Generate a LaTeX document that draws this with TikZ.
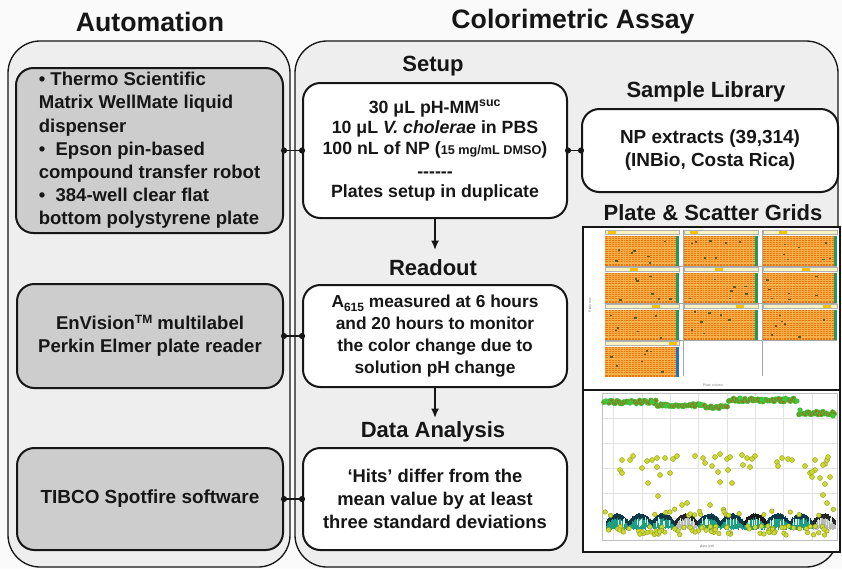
\documentclass[tikz,border=0pt]{standalone}
\usepackage{fontspec}
\setmainfont{Liberation Sans}
\usetikzlibrary{arrows.meta}
\definecolor{bg}{HTML}{FAFAFA}
\definecolor{panelfill}{HTML}{EEEEEE}
\definecolor{boxgray}{HTML}{CDCDCD}
\definecolor{ink}{HTML}{161616}
\definecolor{plateorange}{HTML}{EE7410}
\definecolor{plategridc}{HTML}{F5B04A}
\definecolor{hdrfill}{HTML}{FAF2C0}
\definecolor{hdrmark}{HTML}{F5C400}
\definecolor{stripgreen}{HTML}{1E9A5E}
\definecolor{stripblue}{HTML}{2070C8}
\definecolor{hitcol}{HTML}{5C5A22}
\definecolor{topfill}{HTML}{8C7A1E}
\definecolor{topedge}{HTML}{3CC83C}
\definecolor{yelfill}{HTML}{CCD834}
\definecolor{yeledge}{HTML}{8E9C12}
\definecolor{tealA}{HTML}{1F9C84}
\definecolor{tealB}{HTML}{0C3A48}
\definecolor{tealC}{HTML}{7AD0A0}
\definecolor{gridc}{HTML}{E2E2E2}
\newcommand\drawplate[4]{%
 \begin{scope}[shift={(#1,#2)}]
  \fill[hdrfill] (0,0) rectangle (74,4.5);
  \draw[gray!60, line width=0.2pt] (0,0) rectangle (74,4.5);
  \fill[hdrmark] (#4,0.6) rectangle ++(8,3.3);
  \fill[plateorange] (0,5.5) rectangle (74,35.5);
  \foreach \k in {1,...,23} \draw[plategridc, line width=0.35pt] ({\k*71/24},5.5) -- ({\k*71/24},35.5);
  \foreach \k in {1,...,15} \draw[plategridc, line width=0.35pt] (0,{5.5+\k*30/16}) -- (71,{5.5+\k*30/16});
  \fill[#3] (71,5.5) rectangle (74,35.5);
  \foreach \k in {1,...,7} {
    \pgfmathsetmacro\hx{3+rnd*64}
    \pgfmathsetmacro\hy{7+rnd*26}
    \fill[hitcol] (\hx,\hy) rectangle ++(2.4,1.7);
  }
 \end{scope}}
\begin{document}
\begin{tikzpicture}[x=0.75pt,y=-0.75pt]
\tikzset{
 panel/.style={draw=ink, line width=1pt, fill=panelfill, rounded corners=24pt},
 graybox/.style={draw=ink, line width=1.5pt, fill=boxgray, rounded corners=13pt, inner sep=0pt, text=ink},
 whitebox/.style={draw=ink, line width=1.5pt, fill=white, rounded corners=13pt, inner sep=0pt, text=ink},
 sectitle/.style={font=\bfseries\fontsize{16.5}{18}\selectfont, text=ink},
 bigtitle/.style={font=\bfseries\fontsize{20}{22}\selectfont, text=ink},
 conn/.style={draw=ink, line width=1.3pt},
 flow/.style={draw=ink, line width=1.3pt, -{Latex[length=7pt,width=6pt]}},
 tiny/.style={font=\fontsize{2.6}{3}\selectfont, text=gray},
}
\pgfmathsetseed{7}
\fill[bg] (0,0) rectangle (842,569);
\useasboundingbox (0,0) rectangle (842,569);

% titles
\node[bigtitle] (tauto) at (150,22) {Automation};
\node[bigtitle] (tcolor) at (573,22) {Colorimetric Assay};

% panels
\draw[panel] (8,41) rectangle (290,567);
\draw[panel] (295,41) rectangle (838,567);

% automation boxes
\node[graybox, minimum width=200.25pt, minimum height=123.75pt, align=left,
      font=\bfseries\fontsize{13.9}{17.4}\selectfont] (box1) at (149.5,150.5)
 {• Thermo Scientific\\Matrix WellMate liquid\\dispenser\\•\ \ Epson pin-based\\compound transfer robot\\•\ \ 384-well clear flat\\bottom polystyrene plate};
\node[graybox, minimum width=199.5pt, minimum height=78pt, align=center,
      font=\bfseries\fontsize{13.9}{17.3}\selectfont] (box2) at (150,336)
 {EnVision\raisebox{0.6ex}{\fontsize{9}{9}\selectfont TM} multilabel\\Perkin Elmer plate reader};
\node[graybox, minimum width=199.5pt, minimum height=76.5pt, align=center,
      font=\bfseries\fontsize{14.2}{17}\selectfont] (box3) at (150,499)
 {TIBCO Spotfire software};

% assay section titles
\node[sectitle] (tsetup) at (433,66) {Setup};
\node[sectitle] (tread) at (433,268) {Readout};
\node[sectitle] (tdata) at (433,432) {Data Analysis};
\node[sectitle] (tsample) at (706,92) {Sample Library};
\node[sectitle] (tgrid) at (713,213) {Plate \& Scatter Grids};

% assay boxes
\node[whitebox, minimum width=198pt, minimum height=101.25pt, align=center,
      font=\bfseries\fontsize{13.3}{15.4}\selectfont] (setup) at (435,150.5)
 {30 μL pH-MM\textsuperscript{suc}\\10 μL \textit{V. cholerae} in PBS\\100 nL of NP ({\fontsize{9.5}{10}\selectfont 15 mg/mL DMSO})\\[2pt]-{}-{}-{}-{}-{}-\\Plates setup in duplicate};
\node[whitebox, minimum width=198pt, minimum height=76.5pt, align=center,
      font=\bfseries\fontsize{13}{16.3}\selectfont] (readout) at (435,336)
 {A\raisebox{-0.4ex}{\fontsize{9}{9}\selectfont 615} measured at 6 hours\\and 20 hours to monitor\\the color change due to\\solution pH change};
\node[whitebox, minimum width=198pt, minimum height=76.5pt, align=center,
      font=\bfseries\fontsize{13.8}{17}\selectfont] (data) at (435,499)
 {‘Hits’ differ from the\\mean value by at least\\three standard deviations};
\node[whitebox, minimum width=192pt, minimum height=62.25pt, align=center,
      font=\bfseries\fontsize{14.2}{17.3}\selectfont] (sample) at (710,150.5)
 {NP extracts (39,314)\\(INBio, Costa Rica)};

% connectors
\draw[conn] (box1.east) -- (setup.west);
\draw[conn] (box2.east) -- (readout.west);
\draw[conn] (box3.east) -- (data.west);
\draw[conn] (setup.east) -- (sample.west);
\foreach \p in {box1.east,setup.west,box2.east,readout.west,box3.east,data.west,setup.east,sample.west}
  \fill[ink] (\p) circle[radius=2.3pt];
\coordinate (a1) at (435,250);
\coordinate (a2) at (435,418);
\draw[flow] (setup.south) -- (a1);
\draw[flow] (readout.south) -- (a2);

% ---------- plate grid image ----------
\fill[white] (583,227) rectangle (840,390);
\drawplate{605}{230}{stripgreen}{3}
\drawplate{684}{230}{stripgreen}{6}
\drawplate{763}{230}{stripgreen}{16}
\drawplate{605}{267}{stripgreen}{25}
\drawplate{684}{267}{stripgreen}{31}
\drawplate{763}{267}{stripgreen}{39}
\drawplate{605}{304}{stripgreen}{47}
\drawplate{684}{304}{stripgreen}{52}
\drawplate{763}{304}{stripgreen}{60}
\drawplate{605}{341}{stripblue}{64}
\draw[gray!70, line width=0.3pt] (683.5,230) -- (683.5,376) (762.5,230) -- (762.5,376);
\draw[gray!70, line width=0.3pt] (605,266) -- (837,266) (605,303) -- (837,303) (605,340) -- (837,340);
\node[tiny, rotate=90] (prow) at (590,305) {Plate row};
\node[tiny] (pcol) at (713,385) {Plate column};
\draw[ink, line width=0.9pt] (583,227) rectangle (840,390);

% ---------- scatter image ----------
\fill[white] (583,390) rectangle (840,552);
\foreach \gx in {613,642,670,698,727,755,783,812} \draw[gridc, line width=0.4pt] (\gx,393) -- (\gx,540);
\foreach \gy in {418,443,468,493,518} \draw[gridc, line width=0.4pt] (602,\gy) -- (837,\gy);
\draw[gray!50, line width=0.3pt] (602,393) rectangle (837,540);
% bottom clusters (dome-shaped stripes)
\foreach \c/\dk in {617/0,640/0,663/0,686/1,709/0,732/0,755/2,778/0,801/0,824/1} {
  \foreach \k in {-22,...,22} {
    \pgfmathsetmacro\xx{\c+\k*0.5}
    \pgfmathsetmacro\yt{513+(\k/22)^2*7+rnd*1.5}
    \pgfmathsetmacro\ym{\yt+4+rnd*2}
    \pgfmathsetmacro\yb{527+rnd*3}
    \ifnum\dk=1
      \draw[black!85, line width=0.7pt] (\xx,\yt) -- (\xx,\ym);
      \draw[gray!55, line width=0.7pt] (\xx,\ym) -- (\xx,\yb);
    \else\ifnum\dk=2
      \draw[black!90, line width=0.7pt] (\xx,\yt) -- (\xx,\ym);
      \draw[tealA, line width=0.7pt] (\xx,\ym) -- (\xx,\yb);
    \else
      \draw[tealB, line width=0.7pt] (\xx,\yt) -- (\xx,\ym);
      \draw[tealA, line width=0.7pt] (\xx,\ym) -- (\xx,\yb);
    \fi\fi
  }
  \foreach \k in {1,...,6} {
    \pgfmathsetmacro\xx{\c+rand*8}
    \draw[white!70!tealC, line width=0.4pt] (\xx,{517+rnd*4}) -- ++(0,6);
  }
}
% yellow dots at bottom
\foreach \k in {1,...,80} {
  \pgfmathsetmacro\xx{604+rnd*232}
  \pgfmathsetmacro\yy{526+rnd*9}
  \filldraw[fill=yelfill, draw=yeledge, line width=0.3pt] (\xx,\yy) circle[radius=2.3];
}
\foreach \k in {1,...,22} {
  \pgfmathsetmacro\xx{604+rnd*232}
  \pgfmathsetmacro\yy{509+rnd*7}
  \filldraw[fill=yelfill, draw=yeledge, line width=0.3pt] (\xx,\yy) circle[radius=2.3];
}
% middle yellow dots
\foreach \mx/\my in {622/460,630/460,633/456,620/470,622/473,642/468,647/461,652/460,657/458,657/467,648/483,660/475,658/496,670/473,665/458,673/459,677/456,695/456,703/458,705/463,712/466,718/472,720/482,715/457,720/454,727/459,730/457,728/470,732/483,742/455,747/458,743/465,750/467,755/456,752/459,777/462,782/458,778/466,788/459,792/460,805/466,810/473,812/477,815/460,815/470,820/478,825/464,827/460,828/457,823/465,830/477,825/484,823/495,827/503,812/472,710/505,682/505,687/503}
  \filldraw[fill=yelfill, draw=yeledge, line width=0.3pt] (\mx,\my) circle[radius=2.5];
% top band
\foreach \i in {0,...,118} {
  \pgfmathsetmacro\xx{604+\i*1.62}
  \pgfmathsetmacro\yy{(\xx<657)*402+(\xx>=657)*(\xx<705)*405+(\xx>=705)*(\xx<728)*407+(\xx>=728)*400+rand*1.6}
  \filldraw[fill=topfill, draw=topedge, line width=0.4pt] (\xx,\yy) circle[radius=2.5];
}
\foreach \i in {0,...,22} {
  \pgfmathsetmacro\xx{799+\i*1.6}
  \pgfmathsetmacro\yy{413+rand*1.6}
  \filldraw[fill=topfill, draw=topedge, line width=0.4pt] (\xx,\yy) circle[radius=2.5];
}
\foreach \gx/\gy in {606/401,630/403,652/402,666/406,700/404,740/398,762/400,785/399,797/401,800/410,833/416}
  \fill[topedge] (\gx,\gy) circle[radius=2.6];
\node[tiny] (pwell) at (707,547) {plate well};
\draw[ink, line width=0.9pt] (583,390) rectangle (840,552);
\end{tikzpicture}
\end{document}
